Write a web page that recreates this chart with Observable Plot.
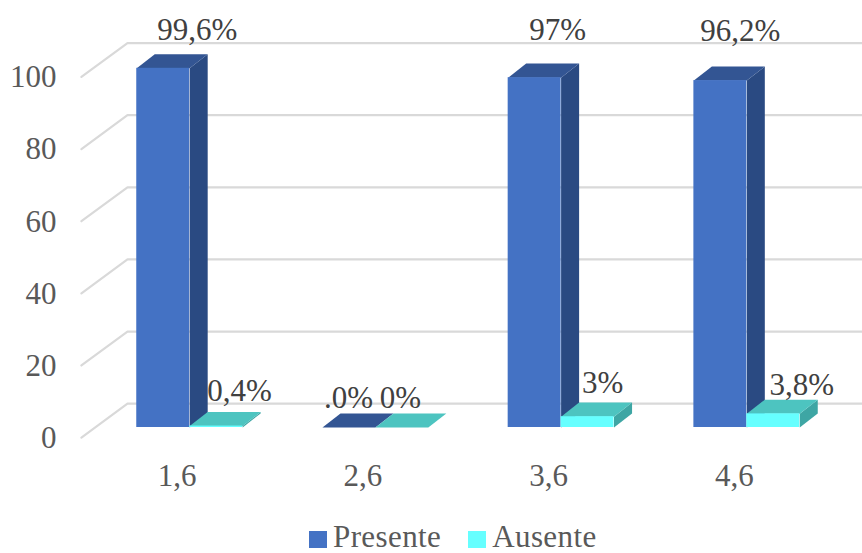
<!DOCTYPE html>
<html>
<head>
<meta charset="utf-8">
<script src="https://cdn.jsdelivr.net/npm/d3@7"></script>
<script src="https://cdn.jsdelivr.net/npm/@observablehq/plot@0.6"></script>
<style>
html,body{margin:0;padding:0;background:#fff}
#legend{display:flex;align-items:center;height:26px;line-height:26px;padding-left:309px;font-family:"Liberation Serif",serif;font-size:31px;letter-spacing:.4px;color:#595959;white-space:nowrap}
#legend i{display:inline-block;width:18px;height:17px;margin-right:6px;position:relative;top:2px}
#legend span{margin-right:27px}
</style>
</head>
<body>
<div id="chart"></div>
<div id="legend"></div>
<script>
// Data
const categories = ["1,6", "2,6", "3,6", "4,6"];
const presente = [99.6, 0, 97, 96.2];
const ausente = [0.4, 0, 3, 3.8];
const presenteLabels = ["99,6%", ".0%", "97%", "96,2%"];
const ausenteLabels = ["0,4%", "0%", "3%", "3,8%"];
const yTicks = [0, 20, 40, 60, 80, 100];
const seriesNames = ["Presente", "Ausente"];

// Hand-placed data label offsets (pixels, as in the source chart)
const presenteOffsets = [[34, -38], [-0.5, -29], [23, -48], [20, -49]];
const ausenteOffsets = [[23.5, -35], [-1.5, -29], [15, -34], [28.5, -29]];

// Oblique projection, in scale units
const barW = 0.285;
const depthX = 0.097, depthY = 3.9;
const wallX = -0.335, wallY = 6.6;
const frontX = -0.583, frontY = -2.8;
const xMin = -0.631, xMax = 3.623, yMin = -9.15, yMax = 118.4;

const palette = {
  Presente: {front: "#4472C4", side: "#2A4A82", top: "#335593"},
  Ausente: {front: "#66FFFF", side: "#3EA6A4", top: "#4DC4C0"}
};

const bars = [];
categories.forEach((c, i) => {
  bars.push({i, name: "Presente", v: presente[i], x1: i - barW, x2: i});
  bars.push({i, name: "Ausente", v: ausente[i], x1: i, x2: i + barW});
});

function faces(b) {
  const c = palette[b.name], id = b.name + b.i;
  const poly = (k, fill, pts) => pts.map(([x, y]) => ({id: id + k, fill, x, y}));
  return [
    ...poly("s", c.side, [[b.x2, 0], [b.x2 + depthX, depthY], [b.x2 + depthX, b.v + depthY], [b.x2, b.v]]),
    ...poly("t", c.top, [[b.x1, b.v], [b.x1 + depthX, b.v + depthY], [b.x2 + depthX, b.v + depthY], [b.x2, b.v]])
  ];
}

const gridPts = yTicks.flatMap(v => [
  {v, x: frontX, y: v + frontY},
  {v, x: wallX, y: v + wallY},
  {v, x: xMax, y: v + wallY}
]);

const marks = [
  Plot.line(gridPts, {x: "x", y: "y", z: "v", stroke: "#D9D9D9", strokeWidth: 2.2}),
  Plot.axisY({ticks: yTicks, anchor: "left", tickSize: 0, tickPadding: 16, dy: 10.5, label: null, fontSize: 31, fill: "#595959"}),
  Plot.axisX({ticks: [0, 1, 2, 3], tickFormat: i => categories[i], anchor: "bottom", tickSize: 0, tickPadding: 0, dx: -12.5, dy: 3, label: null, fontSize: 31, fill: "#595959"})
];

bars.forEach(b => {
  marks.push(Plot.line(faces(b), {x: "x", y: "y", z: "id", fill: "fill", stroke: "none"}));
  if (b.v > 0) marks.push(Plot.rect([b], {x1: "x1", x2: "x2", y1: 0, y2: "v", fill: palette[b.name].front, inset: 0}));
});

const addLabels = (values, labels, offsets, cx) => labels.forEach((t, i) => {
  marks.push(Plot.text([t], {
    x: () => cx(i), y: () => values[i], text: d => d,
    dx: offsets[i][0], dy: offsets[i][1],
    fontSize: 31, fill: "#404040", textAnchor: "middle", lineAnchor: "middle"
  }));
});
addLabels(presente, presenteLabels, presenteOffsets, i => i - barW / 2);
addLabels(ausente, ausenteLabels, ausenteOffsets, i => i + barW / 2);

const chart = Plot.plot({
  width: 862,
  height: 524,
  marginLeft: 72,
  marginRight: 0,
  marginTop: 0,
  marginBottom: 64,
  style: {fontFamily: "'Liberation Serif', serif", background: "#fff", overflow: "visible"},
  x: {type: "linear", domain: [xMin, xMax]},
  y: {type: "linear", domain: [yMin, yMax]},
  marks
});
document.getElementById("chart").appendChild(chart);
chart.style.display = "block";

const legend = document.getElementById("legend");
seriesNames.forEach(n => {
  const sw = document.createElement("i");
  sw.style.background = palette[n].front;
  const s = document.createElement("span");
  s.textContent = n;
  legend.append(sw, s);
});
</script>
</body>
</html>
